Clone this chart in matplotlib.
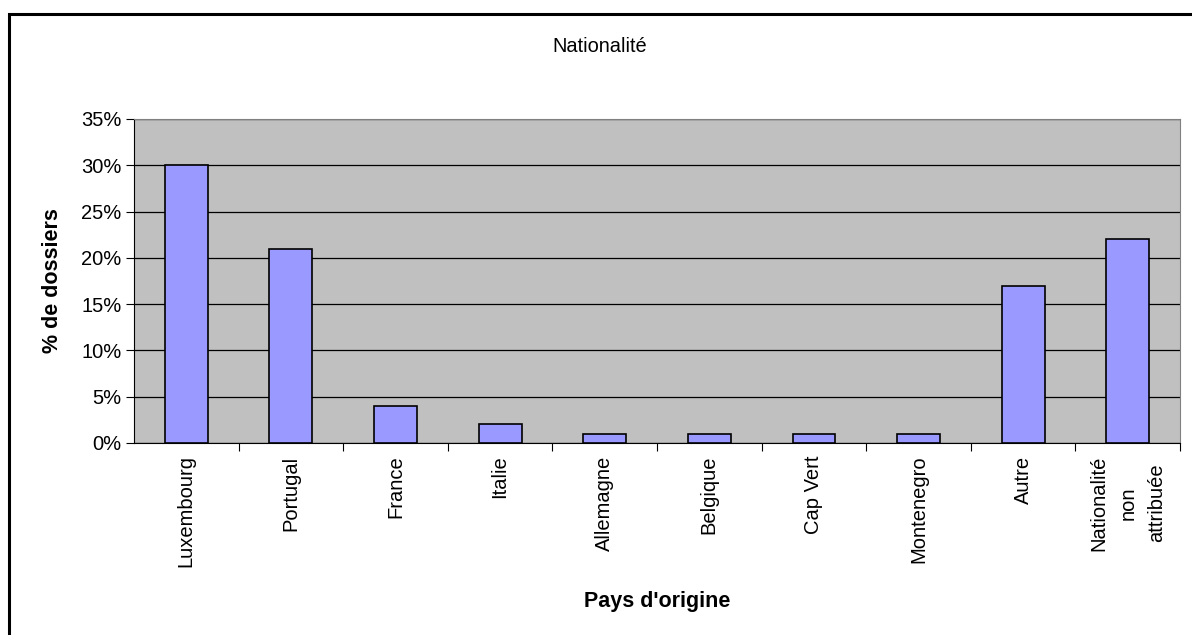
import matplotlib.pyplot as plt
from matplotlib.patches import Rectangle
from matplotlib.ticker import FuncFormatter, MultipleLocator

# share of files per country of origin (%)
pays = ["Luxembourg", "Portugal", "France", "Italie", "Allemagne", "Belgique",
        "Cap Vert", "Montenegro", "Autre", "Nationalité\nnon\nattribuée"]
pourcentages = [30, 21, 4, 2, 1, 1, 1, 1, 17, 22]

plt.rcParams['font.family'] = ['Liberation Sans', 'DejaVu Sans']

fig = plt.figure(figsize=(11.92, 6.35), dpi=100)
ax = fig.add_axes([0.1124, 0.3024, 0.8776, 0.5102])

ax.set_facecolor('#c0c0c0')
x = range(len(pays))
ax.bar(x, pourcentages, width=0.41, color='#9999ff', edgecolor='black',
       linewidth=1.2, zorder=3)

ax.set_xlim(-0.5, len(pays) - 0.5)
ax.set_ylim(0, 35)
ax.yaxis.set_major_locator(MultipleLocator(5))
ax.yaxis.set_major_formatter(FuncFormatter(lambda v, p: f"{v:.0f}%"))
ax.grid(axis='y', color='black', linewidth=0.9, zorder=1)

# category labels sit between boundary ticks
ax.set_xticks([i + 0.5 for i in range(len(pays) - 1)] + [len(pays) - 0.5])
ax.set_xticklabels([])
ax.set_xticks(list(x), minor=True)
ax.set_xticklabels(pays, minor=True, rotation=90, fontsize=14.5,
                   va='top', ha='center', multialignment='center',
                   linespacing=1.65)
ax.tick_params(axis='x', which='minor', length=0, pad=9)
ax.tick_params(axis='x', which='major', length=6, direction='out', color='black')
ax.tick_params(axis='y', labelsize=14.5, length=6, direction='out', color='black',
               pad=3)

for side in ['top', 'right']:
    ax.spines[side].set_color('#808080')
for side in ['left', 'bottom']:
    ax.spines[side].set_color('black')

ax.set_ylabel("% de dossiers", fontsize=15.5, fontweight='bold', labelpad=13)
ax.set_xlabel("Pays d'origine", fontsize=15.5, fontweight='bold', labelpad=17)

fig.text(0.5035, 1 - 46 / 635, "Nationalité", ha='center', va='center', fontsize=14.4)

# outer chart frame, running past the right and bottom edges
fig.patches.append(Rectangle((8.5 / 1192, -0.05), 1.2, 1.05 - 13.5 / 635,
                             transform=fig.transFigure, fill=False,
                             edgecolor='black', linewidth=2.2))

fig.savefig("out.png", dpi=100)
